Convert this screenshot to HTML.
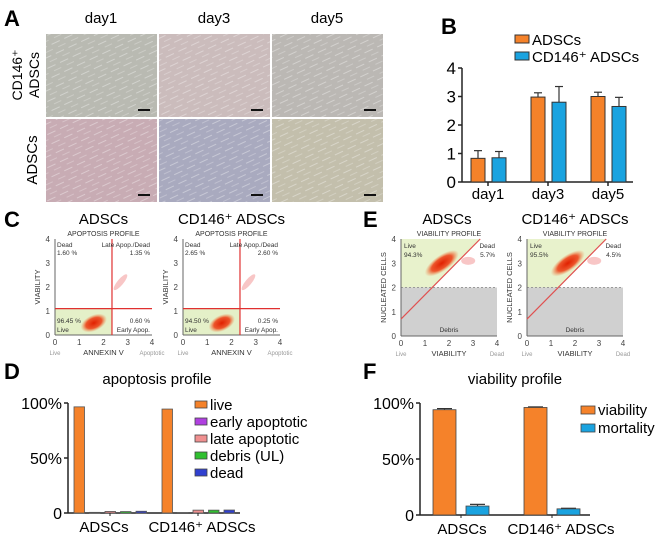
<!DOCTYPE html>
<html><head><meta charset="utf-8">
<style>
body{margin:0;background:#fff;}
svg{display:block;font-family:"Liberation Sans",Arial,sans-serif;}
</style></head>
<body>
<svg id="fig" width="671" height="542" viewBox="0 0 671 542" xmlns="http://www.w3.org/2000/svg">
<defs>
<radialGradient id="blob"><stop offset="0" stop-color="#e02000"/><stop offset="0.6" stop-color="#ee3a10" stop-opacity="0.85"/><stop offset="1" stop-color="#f08040" stop-opacity="0"/></radialGradient>
<pattern id="cells" width="14" height="10" patternUnits="userSpaceOnUse" patternTransform="rotate(-25)">
<line x1="0" y1="2" x2="9" y2="2" stroke="#fff" stroke-opacity="0.35" stroke-width="1"/>
<line x1="5" y1="7" x2="13" y2="7" stroke="#fff" stroke-opacity="0.25" stroke-width="1"/>
</pattern>
</defs>
<g id="panelA"></g>
<g id="panelB"></g>
<g id="panelC"></g>
<g id="panelE"></g>
<g id="panelD"></g>
<g id="panelF"></g>
</svg>
<script>
const NS="http://www.w3.org/2000/svg";
function mk(parent,tag,attrs,text){const e=document.createElementNS(NS,tag);for(const k in attrs)e.setAttribute(k,attrs[k]);if(text!==undefined)e.textContent=text;parent.appendChild(e);return e;}

// ---------- Data ----------
const bDays=["day1","day3","day5"];
const bAdscs=[0.83,2.98,3.0];
const bAdscsErr=[0.27,0.15,0.15];
const bCd146=[0.85,2.8,2.65];
const bCd146Err=[0.22,0.55,0.32];
const bTicks=[0,1,2,3,4];

const dGroups=["ADSCs","CD146⁺ ADSCs"];
const dCats=["live","early apoptotic","late apoptotic","debris (UL)","dead"];
const dAdscs=[96.5,0.6,1.4,1.3,1.6];
const dCd146=[94.5,0.3,2.6,2.6,2.7];
const dColors=["#f5822a","#b040e0","#f09090","#30c030","#3040d0"];
const dTicks=["0","50%","100%"];

const fGroups=["ADSCs","CD146⁺ ADSCs"];
const fCats=["viability","mortality"];
const fAdscs=[94,8];
const fAdscsErr=[1,1.5];
const fCd146=[96,5.5];
const fCd146Err=[0.5,0.5];
const fColors=["#f5822a","#1aa3e0"];

// ---------- Panel A ----------
const A=document.getElementById('panelA');
let t=mk(A,'text',{x:4,y:26,'font-size':22,'font-weight':'bold'},'A');

const cols=[46,159,272],rows=[34,119];
const tints=[["#b9bab2","#cbbcbc","#bbb8b4"],["#c8acb4","#a9aabf","#c3bfac"]];
["day1","day3","day5"].forEach((d,i)=>{const e=mk(A,'text',{x:cols[i]+55,y:23,'font-size':15,'text-anchor':'middle'},d);
});
rows.forEach((ry,r)=>cols.forEach((cx,c)=>{
 const g=mk(A,'g',{});
 mk(g,'rect',{x:cx,y:ry,width:111,height:83,fill:tints[r][c]});
 mk(g,'rect',{x:cx,y:ry,width:111,height:83,fill:'url(#cells)'});
 mk(g,'line',{x1:cx+92,y1:ry+76,x2:cx+104,y2:ry+76,stroke:'#111','stroke-width':2});
}));
t=mk(A,'text',{transform:'translate(22,75) rotate(-90)','font-size':14,'text-anchor':'middle'},'CD146⁺');

t=mk(A,'text',{transform:'translate(39,75) rotate(-90)','font-size':14,'text-anchor':'middle'},'ADSCs');

t=mk(A,'text',{transform:'translate(37,160) rotate(-90)','font-size':15,'text-anchor':'middle'},'ADSCs');


// ---------- Panel B ----------
const B=document.getElementById('panelB');
t=mk(B,'text',{x:441,y:34,'font-size':22,'font-weight':'bold'},'B');

const bx0=462,by0=182,bUnit=28.5;
const bY=v=>by0-v*bUnit;
const bGroupX=i=>488+i*60;
mk(B,'line',{x1:bx0,y1:bY(4),x2:bx0,y2:by0,stroke:'#222','stroke-width':1.5});
mk(B,'line',{x1:bx0,y1:by0,x2:633,y2:by0,stroke:'#222','stroke-width':1.5});
bTicks.forEach(v=>{mk(B,'line',{x1:bx0-4,y1:bY(v),x2:bx0,y2:bY(v),stroke:'#222','stroke-width':1.5});
 const e=mk(B,'text',{x:bx0-6,y:bY(v)+6,'font-size':17,'text-anchor':'end'},String(v));
 });
bDays.forEach((d,i)=>{const cx=bGroupX(i);
 [[bAdscs,bAdscsErr,"#f5822a",-17],[bCd146,bCd146Err,"#1aa3e0",4]].forEach(([vals,errs,col,off],k)=>{
  const x=cx+off,w=14;
  mk(B,'line',{x1:x+w/2,y1:bY(vals[i]),x2:x+w/2,y2:bY(vals[i]+errs[i]),stroke:'#333','stroke-width':1.2});
  mk(B,'line',{x1:x+w/2-4,y1:bY(vals[i]+errs[i]),x2:x+w/2+4,y2:bY(vals[i]+errs[i]),stroke:'#333','stroke-width':1.2});
  const r=mk(B,'rect',{x:x,y:bY(vals[i]),width:w,height:by0-bY(vals[i]),fill:col,stroke:'#333','stroke-width':1});
  
 });
 mk(B,'line',{x1:cx,y1:by0,x2:cx,y2:by0+4,stroke:'#222','stroke-width':1.5});
 const e=mk(B,'text',{x:cx,y:199,'font-size':15,'text-anchor':'middle'},d);
 
});
[["ADSCs","#f5822a",41],["CD146⁺ ADSCs","#1aa3e0",58]].forEach(([l,c,y],i)=>{
 const g=mk(B,'g',{});
 mk(g,'rect',{x:515,y:y-6,width:14,height:8,fill:c,stroke:'#333','stroke-width':1});
 mk(g,'text',{x:532,y:y+4,'font-size':15},l);
});

// ---------- Flow plots helper ----------
function flowAxes(g,x0,y0,w,h,xl,yl,title,left,right){
 const tl=mk(g,'text',{x:x0+w/2,y:y0-3,'font-size':7,'text-anchor':'middle',fill:'#333'},title);
 
 mk(g,'line',{x1:x0,y1:y0,x2:x0,y2:y0+h,stroke:'#666'});mk(g,'line',{x1:x0,y1:y0+h,x2:x0+w,y2:y0+h,stroke:'#666'});
 for(let i=0;i<=4;i++){mk(g,'text',{x:x0+i*w/4,y:y0+h+10,'font-size':8,'text-anchor':'middle',fill:'#444'},i);
  mk(g,'text',{x:x0-5,y:y0+h-i*h/4+3,'font-size':8,'text-anchor':'end',fill:'#444'},i);}
 mk(g,'text',{x:x0+w/2,y:y0+h+20,'font-size':7.5,'text-anchor':'middle',fill:'#333'},xl);
 mk(g,'text',{x:x0,y:y0+h+20,'font-size':6,'text-anchor':'middle',fill:'#999'},left);
 mk(g,'text',{x:x0+w,y:y0+h+20,'font-size':6,'text-anchor':'middle',fill:'#999'},right);
 mk(g,'text',{transform:`translate(${x0-15},${y0+h/2}) rotate(-90)`,'font-size':7.5,'text-anchor':'middle',fill:'#333'},yl);
}

// ---------- Panel C ----------
const C=document.getElementById('panelC');
t=mk(C,'text',{x:4,y:227,'font-size':22,'font-weight':'bold'},'C');

const cPct=[["1.60 %","1.35 %","96.45 %","0.60 %"],["2.65 %","2.60 %","94.50 %","0.25 %"]];
[[55,"ADSCs"],[183,"CD146⁺ ADSCs"]].forEach(([x0,tt],i)=>{
 const g=mk(C,'g',{});
 const w=97,h=96,y0=239;
 mk(g,'text',{x:x0+w/2,y:224,'font-size':15,'text-anchor':'middle'},tt);
 const vx=x0+2.35*w/4,hy=y0+h-1.1*h/4;
 mk(g,'rect',{x:x0,y:hy,width:vx-x0,height:y0+h-hy,fill:'#e4f0c8'});
 mk(g,'ellipse',{cx:x0+1.6*w/4,cy:y0+h-0.5*h/4,rx:14,ry:8,fill:'url(#blob)',transform:`rotate(-25 ${x0+1.6*w/4} ${y0+h-0.5*h/4})`});
 mk(g,'ellipse',{cx:x0+2.7*w/4,cy:y0+h-2.2*h/4,rx:10,ry:3,fill:'#f4a0a0',opacity:0.6,transform:`rotate(-50 ${x0+2.7*w/4} ${y0+h-2.2*h/4})`});
 flowAxes(g,x0,y0,w,h,"ANNEXIN V","VIABILITY","APOPTOSIS PROFILE","Live","Apoptotic");
 mk(g,'line',{x1:vx,y1:y0,x2:vx,y2:y0+h,stroke:'#e03030','stroke-width':1.2});
 mk(g,'line',{x1:x0,y1:hy,x2:x0+w,y2:hy,stroke:'#e03030','stroke-width':1.2});
 const p=cPct[i];
 mk(g,'text',{x:x0+2,y:y0+8,'font-size':6.5,fill:'#333'},'Dead');mk(g,'text',{x:x0+2,y:y0+16,'font-size':6.5,fill:'#333'},p[0]);
 mk(g,'text',{x:x0+w-2,y:y0+8,'font-size':6.5,fill:'#333','text-anchor':'end'},'Late Apop./Dead');mk(g,'text',{x:x0+w-2,y:y0+16,'font-size':6.5,fill:'#333','text-anchor':'end'},p[1]);
 mk(g,'text',{x:x0+2,y:y0+h-12,'font-size':6.5,fill:'#333'},p[2]);mk(g,'text',{x:x0+2,y:y0+h-3,'font-size':6.5,fill:'#333'},'Live');
 mk(g,'text',{x:x0+w-2,y:y0+h-12,'font-size':6.5,fill:'#333','text-anchor':'end'},p[3]);mk(g,'text',{x:x0+w-2,y:y0+h-3,'font-size':6.5,fill:'#333','text-anchor':'end'},'Early Apop.');
});

// ---------- Panel E ----------
const E=document.getElementById('panelE');
t=mk(E,'text',{x:363,y:227,'font-size':22,'font-weight':'bold'},'E');

const ePct=[["94.3%","5.7%"],["95.5%","4.5%"]];
[[401,"ADSCs"],[527,"CD146⁺ ADSCs"]].forEach(([x0,tt],i)=>{
 const g=mk(E,'g',{});
 const w=96,h=97,y0=239;
 const X=v=>x0+v*w/4,Y=v=>y0+h-v*h/4;
 mk(g,'text',{x:x0+w/2-(i?0:2),y:224,'font-size':15,'text-anchor':'middle'},tt);
 mk(g,'rect',{x:x0,y:Y(2),width:w,height:Y(0)-Y(2),fill:'#d0d0d0'});
 mk(g,'polygon',{points:`${X(0)},${Y(2)} ${X(1.3)},${Y(2)} ${X(3.3)},${Y(4)} ${X(0)},${Y(4)}`,fill:'#e8f2cc'});
 mk(g,'line',{x1:X(0),y1:Y(2),x2:X(4),y2:Y(2),stroke:'#999','stroke-dasharray':'2,2'});
 mk(g,'ellipse',{cx:X(1.7),cy:Y(3),rx:20,ry:8,fill:'url(#blob)',transform:`rotate(-35 ${X(1.7)} ${Y(3)})`});
 mk(g,'ellipse',{cx:X(2.8),cy:Y(3.1),rx:7,ry:4,fill:'#f4a0a0',opacity:0.6});
 flowAxes(g,x0,y0,w,h,"VIABILITY","NUCLEATED CELLS","VIABILITY PROFILE","Live","Dead");
 mk(g,'line',{x1:X(0),y1:Y(0.7),x2:X(3.3),y2:Y(4),stroke:'#e05050','stroke-width':1.2});
 mk(g,'text',{x:x0+3,y:y0+9,'font-size':6.5,fill:'#333'},'Live');mk(g,'text',{x:x0+3,y:y0+18,'font-size':6.5,fill:'#333'},ePct[i][0]);
 mk(g,'text',{x:x0+w-2,y:y0+9,'font-size':6.5,fill:'#333','text-anchor':'end'},'Dead');mk(g,'text',{x:x0+w-2,y:y0+18,'font-size':6.5,fill:'#333','text-anchor':'end'},ePct[i][1]);
 mk(g,'text',{x:x0+w/2,y:y0+h-4,'font-size':6.5,fill:'#333','text-anchor':'middle'},'Debris');
});

// ---------- Panel D ----------
const D=document.getElementById('panelD');
t=mk(D,'text',{x:4,y:379,'font-size':22,'font-weight':'bold'},'D');

t=mk(D,'text',{x:157,y:384,'font-size':15,'text-anchor':'middle'},'apoptosis profile');

const dx0=68,dy0=513,dTop=403;
const dY=v=>dy0-v/100*(dy0-dTop);
mk(D,'line',{x1:dx0,y1:dTop,x2:dx0,y2:dy0,stroke:'#222','stroke-width':1.5});
mk(D,'line',{x1:dx0,y1:dy0,x2:240,y2:dy0,stroke:'#222','stroke-width':1.5});
dTicks.forEach((l,i)=>{const v=i*50;mk(D,'line',{x1:dx0-4,y1:dY(v),x2:dx0,y2:dY(v),stroke:'#222','stroke-width':1.5});
 const e=mk(D,'text',{x:dx0-6,y:dY(v)+6,'font-size':16,'text-anchor':'end'},l);
 });
[dAdscs,dCd146].forEach((vals,gi)=>{
 const gx=74+gi*88;
 vals.forEach((v,ci)=>{const x=gx+ci*15.5,w=10.5;
  const r=mk(D,'rect',{x:x,y:dY(v),width:w,height:Math.max(dy0-dY(v),0.8),fill:dColors[ci],stroke:'#555','stroke-width':0.8});
  });
 mk(D,'line',{x1:gx+36,y1:dy0,x2:gx+36,y2:dy0+3,stroke:'#222'});
 const e=mk(D,'text',{x:gx+(gi?40:30),y:532,'font-size':15,'text-anchor':'middle'},dGroups[gi]);
 
});
dCats.forEach((c,i)=>{const y=405+i*17;
 const g=mk(D,'g',{});
 mk(g,'rect',{x:195,y:y-4,width:12,height:7,fill:dColors[i],stroke:'#444','stroke-width':0.8});
 mk(g,'text',{x:210,y:y+5,'font-size':15},c);
});

// ---------- Panel F ----------
const F=document.getElementById('panelF');
t=mk(F,'text',{x:363,y:379,'font-size':22,'font-weight':'bold'},'F');

t=mk(F,'text',{x:515,y:384,'font-size':15,'text-anchor':'middle'},'viability profile');

const fx0=420,fy0=515,fTop=403;
const fY=v=>fy0-v/100*(fy0-fTop);
mk(F,'line',{x1:fx0,y1:fTop,x2:fx0,y2:fy0,stroke:'#222','stroke-width':1.5});
mk(F,'line',{x1:fx0,y1:fy0,x2:590,y2:fy0,stroke:'#222','stroke-width':1.5});
dTicks.forEach((l,i)=>{const v=i*50;mk(F,'line',{x1:fx0-4,y1:fY(v),x2:fx0,y2:fY(v),stroke:'#222','stroke-width':1.5});
 const e=mk(F,'text',{x:fx0-6,y:fY(v)+6,'font-size':16,'text-anchor':'end'},l);
 });
[[fAdscs,fAdscsErr],[fCd146,fCd146Err]].forEach(([vals,errs],gi)=>{
 const gx=433+gi*91;
 vals.forEach((v,ci)=>{const x=gx+ci*33,w=23;
  mk(F,'line',{x1:x+4,y1:fY(v+errs[ci]),x2:x+w-4,y2:fY(v+errs[ci]),stroke:'#333','stroke-width':1.2});
  mk(F,'line',{x1:x+w/2,y1:fY(v),x2:x+w/2,y2:fY(v+errs[ci]),stroke:'#333','stroke-width':1.2});
  const r=mk(F,'rect',{x:x,y:fY(v),width:w,height:fy0-fY(v),fill:fColors[ci],stroke:'#444','stroke-width':0.8});
  });
 mk(F,'line',{x1:gx+28,y1:fy0,x2:gx+28,y2:fy0+3,stroke:'#222'});
 const e=mk(F,'text',{x:gx+(gi?37:29),y:534,'font-size':15,'text-anchor':'middle'},fGroups[gi]);
 
});
fCats.forEach((c,i)=>{const y=410+i*18;
 const g=mk(F,'g',{});
 mk(g,'rect',{x:581,y:y-4,width:14,height:8,fill:fColors[i],stroke:'#444','stroke-width':0.8});
 mk(g,'text',{x:598,y:y+5,'font-size':15},c);
});
</script>
</body></html>
